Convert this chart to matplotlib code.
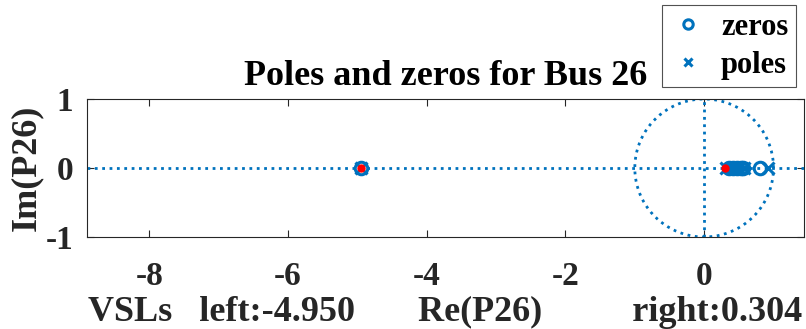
import numpy as np
import matplotlib
matplotlib.use("Agg")
import matplotlib.pyplot as plt

# data
zeros_re = [-4.95, 0.36, 0.42, 0.47, 0.53, 0.56, 0.81]
poles_re = [-4.95, 0.31, 0.39, 0.45, 0.50, 0.58, 0.92]
vsl_re = [-4.950, 0.304]
xticks = [-8, -6, -4, -2, 0]
yticks = [-1, 0, 1]
title = "Poles and zeros for Bus 26"
xlabel = "VSLs   left:-4.950       Re(P26)          right:0.304"
ylabel = "Im(P26)"

blue = "#0072BD"
plt.rcParams['font.family'] = ['Liberation Serif', 'DejaVu Serif']
plt.rcParams['font.weight'] = 'bold'
plt.rcParams['axes.unicode_minus'] = False

fig = plt.figure(figsize=(8.06, 3.29), dpi=100)
ax = fig.add_axes([87/806, 1-237/329, (804-87)/806, (237-99)/329])

ax.axhline(0, color=blue, ls=':', lw=2)
ax.plot([0, 0], [-1, 1], color=blue, ls=':', lw=2)
t = np.linspace(0, 2*np.pi, 400)
ax.plot(np.cos(t), np.sin(t), color=blue, ls=':', lw=2)

ax.plot(zeros_re, np.zeros(len(zeros_re)), 'o', mfc='none', mec=blue, mew=2.2, ms=9, ls='none', label='zeros')
ax.plot(poles_re, np.zeros(len(poles_re)), 'x', color=blue, mew=2.2, ms=8, ls='none', label='poles')
ax.plot(vsl_re, np.zeros(len(vsl_re)), 'o', color='red', ms=5, ls='none')

ax.set_xlim(-8.9, 1.44)
ax.set_ylim(-1, 1)
ax.set_xticks(xticks)
ax.set_yticks(yticks)
ax.tick_params(direction='in', top=True, right=True, labelsize=24, length=5, width=0.8,
               colors='#262626', labelcolor='#262626')
ax.tick_params(axis='y', pad=10)
ax.tick_params(axis='x', pad=17)
for s in ax.spines.values():
    s.set_color('#262626')
    s.set_linewidth(0.8)

ax.set_title(title, fontsize=26, fontweight='bold', pad=10)
ax.set_xlabel(xlabel, fontsize=26, fontweight='bold', labelpad=3, color='#262626')
ax.set_ylabel(ylabel, fontsize=26, fontweight='bold', labelpad=2, color='#262626')

leg = fig.legend(loc='upper right', bbox_to_anchor=(796/806, 1-5/329), fontsize=22, frameon=True,
                 fancybox=False, edgecolor='#262626', handletextpad=0.5, handlelength=1.2,
                 borderpad=0.25, labelspacing=0.3, markerscale=0.75, borderaxespad=0)
leg.get_frame().set_linewidth(0.8)

fig.savefig('out.png', dpi=100)
